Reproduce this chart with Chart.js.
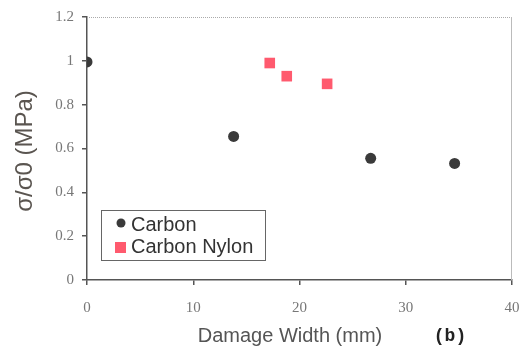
<!DOCTYPE html>
<html><head><meta charset="utf-8">
<script src="https://cdn.jsdelivr.net/npm/chart.js@4.4.0/dist/chart.umd.min.js"></script>
<style>html,body{margin:0;padding:0;background:#fff;}#wrap{position:relative;width:521px;height:352px;}</style>
</head><body>
<div id="wrap"><canvas id="c" width="521" height="352"></canvas></div>
<script>
const carbonX = [0, 13.8, 26.7, 34.6];
const carbonY = [0.995, 0.655, 0.555, 0.532];
const nylonX = [17.2, 18.8, 22.6];
const nylonY = [0.99, 0.93, 0.895];
const xTicks = [0, 10, 20, 30, 40];
const yTicks = [0, 0.2, 0.4, 0.6, 0.8, 1, 1.2];
const seriesNames = ['Carbon', 'Carbon Nylon'];
const xTitle = 'Damage Width (mm)';
const yTitle = 'σ/σ0 (MPa)';
const panelLabel = '(b)';

const cCarbon = '#3a3a3a';
const cNylon = '#ff5a6e';

const extras = {
  id: 'extras',
  afterDraw(chart) {
    const ctx = chart.ctx, a = chart.chartArea;
    ctx.save();
    ctx.strokeStyle = '#aaa';
    ctx.lineWidth = 1;
    ctx.setLineDash([1, 1]);
    ctx.beginPath(); ctx.moveTo(a.left, a.top + 0.5); ctx.lineTo(a.right, a.top + 0.5); ctx.stroke();
    ctx.setLineDash([]);
    ctx.strokeStyle = '#bbb';
    ctx.beginPath(); ctx.moveTo(a.right - 0.5, a.top); ctx.lineTo(a.right - 0.5, a.bottom); ctx.stroke();
    // legend
    ctx.strokeStyle = '#666';
    ctx.lineWidth = 1;
    ctx.strokeRect(101.5, 210.5, 164, 50);
    ctx.font = '20px "Liberation Sans", Arial, sans-serif';
    ctx.textBaseline = 'middle';
    ctx.textAlign = 'left';
    ctx.beginPath(); ctx.fillStyle = cCarbon; ctx.arc(121, 223, 4.5, 0, Math.PI * 2); ctx.fill();
    ctx.fillStyle = cNylon; ctx.fillRect(115, 242, 11, 11);
    ctx.fillStyle = '#333';
    ctx.fillText(seriesNames[0], 131, 225);
    ctx.fillText(seriesNames[1], 131, 247);
    // x title
    ctx.font = '20px "Liberation Sans", Arial, sans-serif';
    ctx.fillStyle = '#555';
    ctx.textAlign = 'center';
    ctx.fillText(xTitle, 290, 336);
    // panel label
    ctx.font = 'bold 18px "Liberation Mono", "Courier New", monospace';
    ctx.fillStyle = '#222';
    ctx.fillText(panelLabel, 450, 336);
    // y title
    ctx.translate(25, 151);
    ctx.rotate(-Math.PI / 2);
    ctx.font = '24px "Liberation Sans", Arial, sans-serif';
    ctx.fillStyle = '#5a5550';
    ctx.fillText(yTitle, 0, 0);
    ctx.restore();
  }
};

new Chart(document.getElementById('c'), {
  type: 'scatter',
  data: {
    datasets: [
      { label: seriesNames[0], data: carbonX.map((x, i) => ({x, y: carbonY[i]})),
        backgroundColor: cCarbon, borderColor: cCarbon, pointRadius: 5.5, pointStyle: 'circle', borderWidth: 0 },
      { label: seriesNames[1], data: nylonX.map((x, i) => ({x, y: nylonY[i]})),
        backgroundColor: cNylon, borderColor: cNylon, pointRadius: 7.5, pointStyle: 'rect', borderWidth: 0 }
    ]
  },
  options: {
    responsive: false,
    animation: false,
    events: [],
    layout: { padding: { top: 16, right: 2, left: 0, bottom: 0 } },
    plugins: { legend: { display: false }, tooltip: { enabled: false } },
    scales: {
      x: {
        type: 'linear', min: 0, max: 40,
        afterBuildTicks: s => { s.ticks = xTicks.map(v => ({value: v})); },
        afterFit: s => { s.height = 72; s.paddingRight = 9; },
        grid: { drawOnChartArea: false, drawTicks: true, tickLength: 5, color: '#555', lineWidth: 1.5 },
        border: { color: '#555', width: 1.5 },
        ticks: { color: '#777', font: { family: '"Liberation Serif", "Times New Roman", serif', size: 15 }, padding: 14, maxRotation: 0 }
      },
      y: {
        type: 'linear', min: 0, max: 1.2,
        afterBuildTicks: s => { s.ticks = yTicks.map(v => ({value: v})); },
        afterFit: s => { s.width = 87; },
        grid: { drawOnChartArea: false, drawTicks: true, tickLength: 5, color: '#555', lineWidth: 1.5 },
        border: { color: '#555', width: 1.5 },
        ticks: { color: '#777', font: { family: '"Liberation Serif", "Times New Roman", serif', size: 15 }, padding: 8,
          callback: v => String(Math.round(v * 10) / 10) }
      }
    }
  },
  plugins: [extras]
});
</script>
</body></html>
